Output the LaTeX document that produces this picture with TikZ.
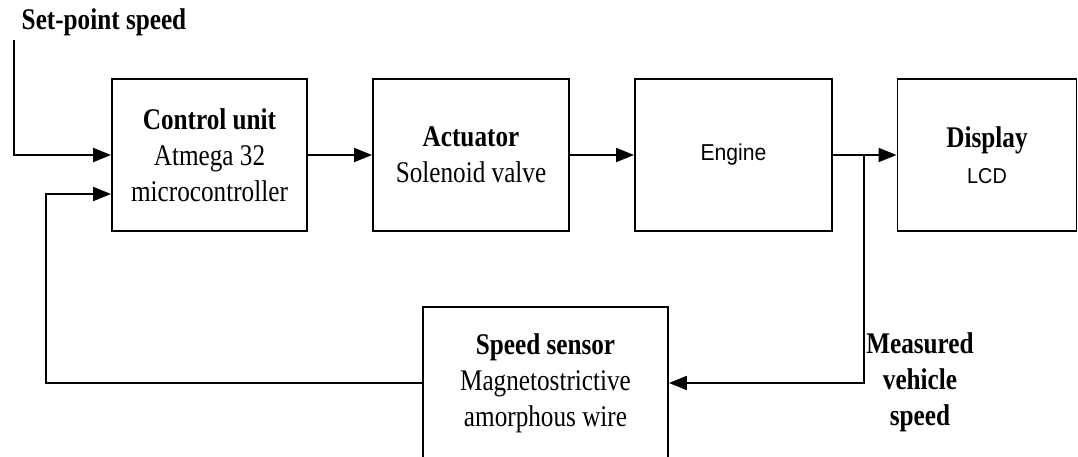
\documentclass[tikz,border=0pt]{standalone}
\usepackage{fontspec}
\setmainfont{Liberation Serif}[FakeStretch=0.84]
\newfontfamily\arialfont{Liberation Sans}[FakeStretch=0.92]
\usetikzlibrary{arrows.meta}
\begin{document}
\begin{tikzpicture}[x=1pt,y=-1pt,
  blockbox/.style={draw=black,line width=1.9pt,rectangle,inner sep=0pt,
    minimum height=152pt,align=center,font=\fontsize{30}{36}\selectfont},
  lbl/.style={align=center,font=\fontsize{30}{36}\selectfont\bfseries},
  arr/.style={line width=1.9pt,-{Triangle[length=18pt,width=14pt]}},
  wire/.style={line width=1.9pt}]
\useasboundingbox (0,0) rectangle (1078,457);
\clip (0,0) rectangle (1078,457);
\node[blockbox,minimum width=195pt] (cu) at (209.5,155) {\textbf{Control unit}\\Atmega 32\\microcontroller};
\node[blockbox,minimum width=196pt] (act) at (471,155) {\textbf{Actuator}\\Solenoid valve};
\node[blockbox,minimum width=197pt] (eng) at (733.5,155) {{\arialfont\fontsize{23}{36}\selectfont Engine}};
\node[blockbox,minimum width=179pt] (disp) at (987,155) {\textbf{Display}\\{\arialfont\fontsize{21.5}{36}\selectfont LCD}};
\node[blockbox,minimum width=245pt] (sens) at (545.5,383) {\textbf{Speed sensor}\\Magnetostrictive\\amorphous wire};
\node[lbl] (sptxt) at (104,22) {Set-point speed};
\node[lbl] (mtxt) at (920,382) {Measured\\vehicle\\speed};
\coordinate (sp) at (14,40);
\coordinate (fbc) at (46,383);
\coordinate (br) at (864,155);
\draw[arr] (sp) |- (cu.west);
\draw[arr] (sens.west) -- (fbc) |- ([yshift=-39pt]cu.west);
\draw[arr] (cu) -- (act);
\draw[arr] (act) -- (eng);
\draw[arr] (eng) -- (disp);
\draw[arr] (br) |- (sens.east);
\end{tikzpicture}
\end{document}
